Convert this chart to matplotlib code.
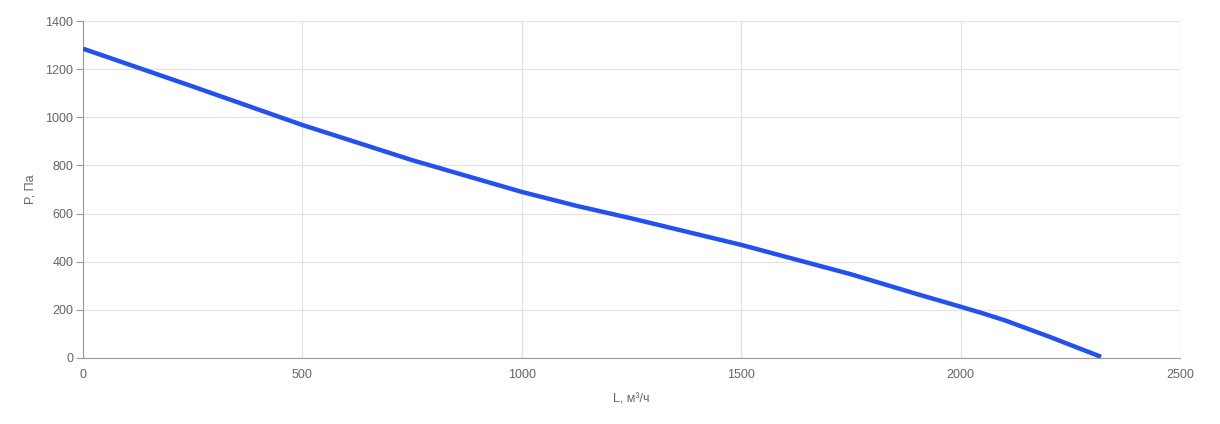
import matplotlib.pyplot as plt

# fan curve
flow = [0, 250, 500, 750, 1000, 1125, 1250, 1500, 1750, 1900, 2000, 2050, 2100, 2200, 2320]
pressure = [1285, 1128, 968, 822, 690, 632, 580, 470, 348, 266, 213, 186, 157, 90, 5]

x_ticks = [0, 500, 1000, 1500, 2000, 2500]
y_ticks = [0, 200, 400, 600, 800, 1000, 1200, 1400]

plt.rcParams['font.family'] = ['Liberation Sans', 'DejaVu Sans']

fig = plt.figure(figsize=(12.2, 4.24), dpi=100)
ax = fig.add_axes([83 / 1220, 1 - 358 / 424, 1097 / 1220, 337 / 424])

ax.plot(flow, pressure, color='#2251f2', linewidth=3.2,
        solid_capstyle='butt', solid_joinstyle='round', zorder=3)

ax.set_xlim(0, 2500)
ax.set_ylim(0, 1400)
ax.set_xticks(x_ticks)
ax.set_yticks(y_ticks)
ax.grid(True, color='#e3e3e3', linewidth=0.9)
ax.set_axisbelow(True)

for side in ['top', 'right']:
    ax.spines[side].set_visible(False)
ax.spines['left'].set_color('#999999')
ax.spines['bottom'].set_color('#999999')
ax.tick_params(axis='y', length=5, color='#999999', labelcolor='#666666', labelsize=9, pad=2)
ax.tick_params(axis='x', length=0, labelcolor='#666666', labelsize=9, pad=8)

ax.set_xlabel('L, м³/ч', color='#666666', fontsize=9, labelpad=9)
ax.set_ylabel('P, Па', color='#666666', fontsize=9, labelpad=6)

fig.savefig('out.png', dpi=100)
